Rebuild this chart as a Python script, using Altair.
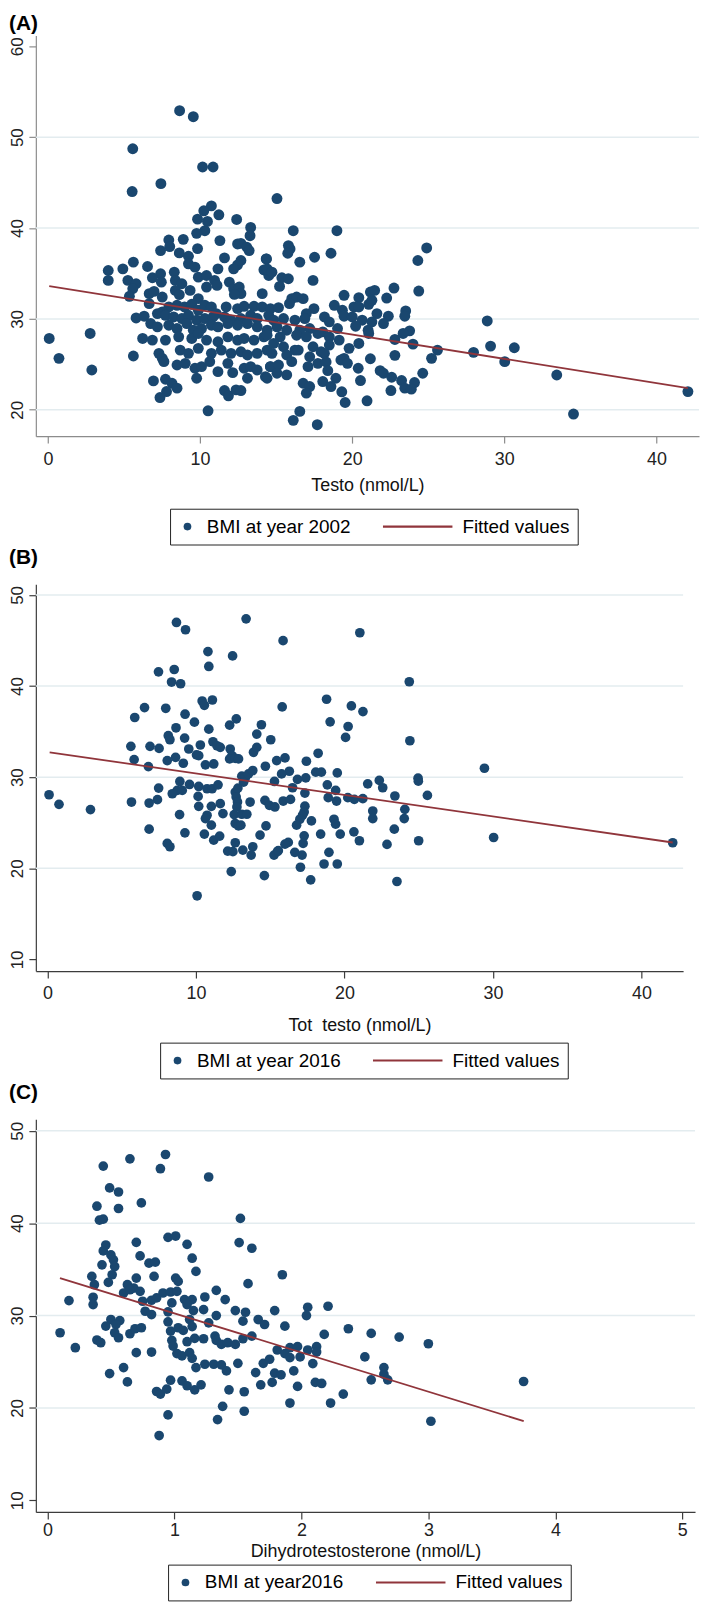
import altair as alt
import pandas as pd

FONT = "Liberation Sans"
NAVY = "#1a476f"
MAROON = "#90353b"
GRID = "#e3ecef"
BAR = "M-1,-0.03L1,-0.03L1,0.03L-1,0.03Z"

# ---------------- Panel A : Testo vs BMI 2002 ----------------
a_left = [
(5.58,48.73),(10.17,46.72),(10.86,46.72),(7.43,44.89),(5.54,44.02),(10.75,42.44),(10.25,41.90),(9.84,40.98),(10.49,40.73),(11.24,41.46),
(10.32,39.71),(9.78,39.42),(12.41,40.95),(13.33,40.07),(13.29,39.16),(7.95,38.69),(8.90,38.76),(8.01,37.96),(7.41,37.52),(9.84,37.74),
(11.31,38.62),(8.64,37.27),(9.24,36.90),(12.47,38.25),(12.69,38.32),(13.08,37.89),(13.23,37.52),(11.61,36.72),(14.35,36.61),(12.69,36.43),
(12.47,35.95),(12.21,35.51),(3.97,35.33),(4.93,35.51),(5.62,36.25),(6.55,35.77),(7.41,34.97),(8.31,35.15),(9.24,36.06),(9.67,35.70),
(3.97,34.24),(5.26,34.24),(5.80,33.87),(5.58,33.32),(6.87,34.53),(7.46,34.05),(8.38,34.24),(8.81,33.87),(9.89,34.60),(10.43,34.78),
(11.18,35.51),(10.96,34.24),(14.20,35.40),(14.52,34.78),(5.36,32.49),(6.66,32.78),(6.98,33.03),(7.52,32.41),(8.38,33.14),(8.64,32.67),
(9.35,33.14),(9.89,32.23),(10.43,33.51),(11.12,33.69),(11.93,34.05),(12.21,33.32),(12.58,33.51),(12.69,32.78),(12.26,32.70),(14.09,32.78),
(6.66,31.68),(7.95,31.32),(7.52,30.77),(8.49,31.50),(8.98,31.32),(9.46,31.61),(9.89,30.95),(10.32,31.50),(10.75,31.32),(11.07,30.59),
(11.72,31.32),(12.47,31.14),(12.90,31.39),(13.55,31.39),(14.09,31.32),(5.80,30.11),(6.33,30.30),(7.20,30.59),(7.73,30.40),(8.27,30.22),
(8.81,30.04),(9.24,30.40),(9.78,29.86),(10.32,30.04),(10.86,30.22),(11.61,30.22),(12.04,29.86),(12.69,30.04),(13.33,30.40),(13.76,30.04),
(14.52,30.40),(6.76,29.49),(7.20,29.13),(7.95,29.31),(8.49,28.94),(9.13,29.49),(9.56,28.76),(10.10,28.94),(10.75,29.31),(11.18,29.13),
(11.83,29.49),(12.47,29.31),(13.12,29.49),(13.76,29.13),(14.41,28.76),(0.09,27.85),(2.78,28.40),(6.23,27.85),(6.87,27.67),(7.73,27.67),
(8.60,28.03),(9.46,27.85),(9.89,28.40),(10.43,27.67),(11.18,27.49),(11.83,28.03),(12.47,27.67),(12.90,27.85),(13.55,27.67),(14.20,28.03),
(0.73,25.66),(5.62,25.92),(7.30,26.21),(7.52,25.66),(8.70,26.57),(9.24,26.21),(9.89,26.76),(10.75,26.21),(11.40,26.57),(12.04,26.21),
(12.69,26.39),(13.12,26.03),(13.76,26.21),(14.41,26.57),(2.89,24.38),(7.63,25.30),(8.49,24.93),(9.03,25.11),(9.67,24.57),(10.10,24.75),
(10.64,25.30),(11.18,24.20),(11.83,25.11),(12.15,24.09),(12.90,24.57),(13.33,24.75),(13.76,24.38),(14.30,23.65),(14.63,24.75),(6.94,23.18),
(7.73,23.36),(8.16,22.92),(8.49,22.38),(7.80,22.01),(7.37,21.35),(9.78,23.47),(11.61,22.12),(11.87,21.54),(12.37,22.19),(12.69,22.12),
(13.12,23.47),(10.53,19.89),(8.66,52.92),(9.56,52.26),
]
a_right = [
(15.06,43.25),(16.13,39.71),(19.00,39.71),(15.81,38.07),(15.92,37.70),(15.77,37.23),(17.53,36.79),(16.56,36.25),(18.61,37.23),(24.90,37.81),
(24.32,36.43),(14.37,36.61),(14.41,35.51),(14.73,35.15),(15.38,34.53),(15.81,34.42),(15.23,33.58),(17.43,34.24),(24.38,33.07),(16.03,32.23),
(16.35,32.41),(16.78,32.23),(15.88,31.68),(19.47,32.60),(20.44,32.34),(21.20,32.96),(21.48,33.14),(22.75,33.40),(22.27,32.30),(14.63,31.14),
(15.16,31.24),(17.49,31.14),(16.99,30.59),(18.83,31.50),(19.36,30.95),(20.12,31.32),(20.44,31.32),(21.09,31.61),(21.30,32.05),(23.52,30.88),
(21.63,30.59),(22.38,30.30),(14.84,29.86),(15.49,30.04),(16.24,29.86),(16.89,30.04),(18.18,30.22),(18.50,29.68),(19.47,30.30),(20.01,30.22),
(20.66,29.86),(21.30,29.68),(22.06,29.49),(23.46,30.30),(28.88,29.78),(15.06,29.13),(15.70,28.76),(16.56,28.76),(17.21,28.94),(18.07,28.58),
(19.04,28.94),(20.23,29.20),(21.05,28.76),(23.78,28.69),(23.35,28.40),(14.41,28.21),(15.27,28.03),(16.35,28.21),(16.99,28.03),(17.75,28.40),
(18.50,28.03),(21.09,28.40),(22.81,27.74),(14.84,27.30),(15.49,26.94),(16.24,26.57),(17.43,26.94),(17.96,26.39),(18.50,27.12),(19.15,27.67),
(19.80,26.76),(20.44,27.30),(24.00,27.23),(25.61,26.57),(27.98,26.32),(29.10,27.01),(30.66,26.83),(14.73,26.21),(15.70,26.03),(16.46,26.57),
(17.21,25.84),(18.18,26.21),(19.47,25.66),(21.20,25.62),(22.81,25.99),(25.22,25.66),(14.63,24.75),(15.16,24.93),(16.03,25.30),(17.10,24.75),
(17.75,25.11),(18.29,25.26),(19.26,25.48),(19.69,25.11),(20.40,24.57),(30.03,25.30),(14.41,23.47),(15.06,24.02),(15.70,23.84),(18.40,24.31),
(18.93,23.47),(21.84,24.31),(22.06,24.02),(22.60,23.58),(24.64,24.02),(16.78,22.92),(17.21,22.56),(16.99,21.83),(18.07,23.11),(18.61,22.56),
(20.55,23.22),(23.25,23.22),(24.10,23.00),(23.46,22.38),(23.89,22.27),(19.32,21.98),(22.55,22.12),(19.54,20.80),(20.98,20.99),(16.56,19.82),
(16.13,18.84),(17.71,18.36),(33.45,23.83),(34.55,19.53),(42.07,22.00),
]
a_fit_x = [0.09, 42.07]
a_fit_y = [33.61, 22.38]
a_xticks = [0, 10, 20, 30, 40]
a_yticks = [20, 30, 40, 50, 60]
a_grid = [20, 30, 40, 50]

# ---------------- Panel B : Tot testo vs BMI 2016 ----------------
b_top = [
(8.68,46.98),(9.29,46.18),(13.37,47.38),(15.86,44.98),(21.03,45.85),(10.80,43.78),(12.46,43.31),(7.47,41.56),(8.53,41.82),(10.86,42.15),
(8.35,40.44),(8.96,40.25),(24.36,40.47),(10.41,38.36),(10.56,37.89),(11.10,38.47),(5.87,36.55),(6.53,37.64),(7.96,37.56),(9.26,36.91),
(9.89,36.04),(18.79,38.55),(20.46,37.82),(21.24,37.20),(19.03,36.07),(15.80,37.71),(12.71,36.40),(12.26,35.71),(14.40,35.75),(8.65,35.42),
(10.86,35.27),(20.24,35.56),
]
b_left = [
(5.61,33.38),(6.90,33.38),(7.51,33.16),(5.83,31.93),(6.79,31.16),(8.13,34.55),(8.24,34.11),(9.23,34.29),(9.51,33.09),(10.29,33.53),
(10.03,32.44),(10.18,32.36),(8.06,31.82),(8.62,32.18),(9.14,31.53),(10.63,31.35),(11.19,31.45),(11.14,33.89),(11.41,33.45),(11.63,33.27),
(12.30,33.09),(12.42,32.36),(12.26,32.00),(12.64,32.07),(12.86,32.00),(14.09,34.73),(13.87,32.73),(14.09,33.27),(15.03,34.11),(14.67,31.20),
(15.43,31.82),(7.48,28.80),(7.40,27.53),(6.84,27.16),(5.65,27.27),(8.91,29.53),(8.73,28.55),(8.40,28.18),(9.07,28.55),(9.56,29.20),
(10.18,28.98),(10.14,27.89),(10.18,26.80),(10.74,28.73),(11.08,28.73),(11.48,29.16),(11.03,26.80),(10.74,25.82),(10.63,25.45),(11.03,24.73),
(10.56,23.75),(9.25,23.89),(8.89,25.89),(6.84,24.29),(8.06,22.73),(8.24,22.36),(11.63,27.09),(11.81,26.00),(12.64,28.36),(12.70,27.82),
(12.79,27.27),(12.57,25.89),(12.75,26.73),(12.64,24.91),(12.86,24.65),(13.02,24.73),(11.19,23.09),(11.59,23.53),(12.64,22.80),(12.13,21.89),
(12.48,21.82),(13.15,22.00),(12.37,19.64),(13.08,30.11),(13.31,29.89),(13.53,30.36),(13.82,30.73),(13.20,29.45),(12.82,28.80),(13.64,27.27),
(13.08,25.93),(13.42,25.93),(13.82,22.36),(13.71,21.45),(14.31,23.64),(14.71,24.65),(14.64,27.45),(14.94,26.91),(15.31,26.73),(15.25,21.45),
(15.48,21.82),(15.28,29.53),(14.60,19.20),(10.07,16.98),(0.10,28.07),(0.77,27.02),(2.89,26.44),
]
b_right = [
(24.40,34.00),(20.07,34.36),(18.22,32.62),(17.43,31.75),(15.99,32.11),(18.06,30.55),(18.44,30.55),(16.28,30.65),(15.76,30.36),(16.83,29.75),
(17.39,29.93),(19.51,30.47),(18.84,29.16),(19.40,28.55),(16.50,28.84),(17.33,28.25),(15.87,27.38),(16.36,27.56),(18.90,27.75),(19.46,27.38),
(20.22,27.75),(20.66,27.56),(21.23,27.64),(21.56,29.27),(22.34,29.64),(22.57,28.84),(23.39,27.93),(24.06,26.47),(24.02,25.45),(24.95,29.89),
(24.97,29.56),(25.58,28.00),(29.42,30.98),(30.04,23.38),(17.33,26.82),(17.28,26.18),(17.17,25.82),(16.99,25.38),(16.77,24.73),(17.77,25.20),
(21.90,26.29),(21.90,25.45),(19.29,25.38),(19.40,24.84),(18.39,23.75),(19.71,23.75),(20.63,24.00),(21.00,23.02),(23.35,24.29),(22.86,22.62),
(24.99,23.02),(17.28,23.56),(17.21,22.73),(17.14,21.45),(16.65,21.75),(16.21,22.84),(15.99,22.65),(15.54,21.93),(18.95,21.75),(18.62,20.47),
(19.51,20.47),(17.03,20.11),(17.72,18.73),(23.53,18.55),(42.10,22.80),
]
b_fit_x = [0.14, 42.10]
b_fit_y = [32.73, 22.83]
b_xticks = [0, 10, 20, 30, 40]
b_yticks = [10, 20, 30, 40, 50]
b_grid = [20, 30, 40, 50]

# ---------------- Panel C : DHT vs BMI 2016 ----------------
c_left = [
(0.93,47.44),(0.65,46.97),(0.44,46.18),(0.89,45.90),(1.27,45.00),(0.49,43.82),(0.56,43.38),(0.39,41.84),(0.56,41.59),(0.74,42.20),
(0.41,40.33),(0.44,40.44),(1.52,40.52),(0.95,38.47),(1.01,38.61),(1.10,37.71),(1.51,37.90),(1.61,37.29),(0.70,37.93),(0.46,37.64),
(0.44,37.00),(0.73,36.46),(0.50,36.57),(0.52,36.03),(0.80,35.67),(0.85,35.78),(1.14,36.21),(1.17,34.78),(0.43,35.49),(0.53,35.31),
(0.51,34.42),(0.48,33.59),(0.35,34.24),(0.37,33.34),(0.70,34.06),(0.84,34.24),(1.01,34.06),(1.03,33.70),(1.58,33.45),(1.33,32.73),
(0.63,33.34),(0.68,32.98),(0.73,32.62),(0.60,32.44),(0.65,32.80),(0.36,31.98),(0.36,31.19),(0.17,31.62),(0.75,31.55),(0.82,31.66),
(0.86,31.91),(0.91,32.44),(0.97,32.55),(1.02,32.62),(0.98,31.37),(1.08,31.73),(1.14,31.73),(1.10,31.19),(1.24,32.01),(1.40,31.73),
(1.23,30.65),(1.15,30.54),(1.48,30.54),(1.56,30.36),(1.54,29.39),(1.33,30.00),(0.77,30.47),(0.82,30.11),(0.95,30.40),(0.50,29.57),
(0.57,29.46),(0.54,29.03),(0.46,28.86),(0.95,29.32),(1.12,29.57),(1.14,28.81),(1.27,29.21),(0.10,28.14),(0.22,26.52),(0.39,27.35),
(0.42,27.06),(0.53,28.14),(0.56,27.60),(0.65,28.03),(0.69,28.57),(0.74,28.68),(0.97,28.32),(1.03,28.68),(1.07,28.39),(0.98,27.31),
(0.99,26.70),(1.10,27.17),(1.16,27.53),(1.23,27.49),(1.32,27.78),(1.33,27.31),(1.37,26.88),(1.42,27.06),(1.48,26.88),(1.54,27.49),
(1.61,27.78),(1.66,29.57),(1.71,29.03),(1.02,25.88),(1.06,25.63),(1.12,25.98),(1.14,25.37),(0.70,25.98),(0.82,26.05),(1.17,24.37),
(1.24,24.73),(1.31,24.73),(1.37,24.66),(1.41,24.01),(1.50,24.83),(1.70,24.83),(1.64,23.83),(1.68,22.50),(0.49,23.72),(0.60,24.37),
(0.63,22.82),(0.97,23.00),(1.06,22.93),(1.10,22.40),(1.16,21.96),(1.21,22.50),(0.86,21.78),(0.89,21.50),(0.94,22.04),(1.43,21.96),
(1.55,21.75),(1.38,20.17),(1.34,18.74),(1.55,19.64),(0.95,19.24),(0.88,17.01),
]
c_right = [
(1.85,34.42),(1.79,30.54),(2.05,30.90),(2.04,30.00),(2.21,31.01),(1.87,28.85),(2.37,28.57),(2.55,28.07),(2.77,27.67),(3.00,26.95),
(2.18,27.96),(1.81,26.27),(1.91,26.52),(1.97,26.63),(1.87,25.88),(1.91,25.45),(1.75,25.27),(1.99,25.52),(2.05,26.27),(2.12,26.63),
(2.12,26.05),(2.09,24.80),(1.94,24.01),(1.79,23.76),(1.84,23.58),(1.77,22.76),(1.97,22.33),(2.11,22.76),(2.16,22.65),(1.91,20.53),
(2.23,20.53),(2.33,21.50),(2.50,25.52),(2.65,24.37),(2.65,23.65),(2.55,23.04),(2.68,23.04),(3.02,18.56),(3.75,22.86),
]
c_fit_x = [0.099, 3.751]
c_fit_y = [34.06, 18.57]
c_xticks = [0, 1, 2, 3, 4, 5]
c_yticks = [10, 20, 30, 40, 50]
c_grid = [20, 30, 40, 50]


def panel(pts, fit_x, fit_y, grid_vals, xdom, ydom, xticks, yticks, w, h,
          title, title_offset, xtitle, label, lx, ly, dot, axis_color,
          lab_pad, title_pad):
    df = pd.DataFrame(pts, columns=["x", "y"])
    fit = pd.DataFrame({"x": fit_x, "y": fit_y})
    grid = pd.DataFrame({"y": grid_vals})
    xs = alt.Scale(domain=xdom, nice=False, zero=False)
    ys = alt.Scale(domain=ydom, nice=False, zero=False)
    xa = alt.Axis(values=xticks, format="d", title=xtitle, grid=False,
                  domainColor=axis_color, domainWidth=1.2, tickColor=axis_color,
                  tickWidth=1.2, tickSize=7, labelFont=FONT, labelFontSize=18,
                  labelColor="#222222", labelPadding=lab_pad, labelFlush=False,
                  titleFont=FONT, titleFontSize=18, titleFontWeight="normal",
                  titleColor="#111111", titlePadding=title_pad)
    ya = alt.Axis(values=yticks, format="d", title=None, grid=False,
                  domainColor=axis_color, domainWidth=1.2, tickColor=axis_color,
                  tickWidth=1.2, tickSize=7, labelFont=FONT, labelFontSize=17,
                  labelColor="#222222", labelAngle=270, labelAlign="center",
                  labelBaseline="bottom", labelPadding=2, labelFlush=False)
    X = alt.X("x:Q", scale=xs, axis=xa)
    Y = alt.Y("y:Q", scale=ys, axis=ya)
    rules = alt.Chart(grid).mark_rule(color=GRID, strokeWidth=1.5).encode(y=Y)
    dots = alt.Chart(df).mark_circle(color=NAVY, opacity=1, size=dot).encode(x=X, y=Y)
    line = alt.Chart(fit).mark_line(color=MAROON, strokeWidth=1.8).encode(x=X, y=Y)
    dom = [label, "Fitted values"]
    lg = alt.Legend(title=None, orient="none", legendX=lx, legendY=ly,
                    direction="horizontal", labelFont=FONT, labelFontSize=19,
                    labelColor="black", labelLimit=400, labelOffset=10,
                    columnPadding=32, padding=8, strokeColor="#222222",
                    fillColor="white", clipHeight=20, symbolStrokeWidth=0)
    key = alt.Chart(alt.Data(values=[])).mark_point(filled=True, opacity=1).encode(
        color=alt.Color("s:N", scale=alt.Scale(domain=dom, range=[NAVY, MAROON]), legend=lg),
        shape=alt.Shape("s:N", scale=alt.Scale(domain=dom, range=["circle", BAR]), legend=lg),
        size=alt.Size("s:N", scale=alt.Scale(type="point", domain=dom, range=[60, 4900]), legend=lg),
    )
    return alt.layer(rules, dots, line, key).properties(
        width=w, height=h,
        title=alt.TitleParams(text=title, anchor="start", frame="bounds", font=FONT,
                              fontSize=21, fontWeight="bold", color="black",
                              offset=title_offset),
    )


pa = panel(a_left + a_right, a_fit_x, a_fit_y, a_grid, [-0.79, 42.8], [17.1, 61.2],
           a_xticks, a_yticks, 667, 403, "(A)", 1, "Testo (nmol/L)",
           "BMI at year 2002", 135, 476, 120, "#8c8c8c", 8, 8)
pb = panel(b_top + b_left + b_right, b_fit_x, b_fit_y, b_grid, [-0.79, 42.8], [8.72, 51.17],
           b_xticks, b_yticks, 651, 389, "(B)", 16, "Tot\u00a0 testo (nmol/L)",
           "BMI at year 2016", 125, 461, 95, "#3c3c3c", 7, 13.5)
pc = panel(c_left + c_right, c_fit_x, c_fit_y, c_grid, [-0.091, 5.10], [8.74, 51.26],
           c_xticks, c_yticks, 663, 395, "(C)", 16, "Dihydrotestosterone (nmol/L)",
           "BMI at year2016", 133, 448, 95, "#3c3c3c", 3, 3)

chart = (
    alt.vconcat(pa, pb, pc, spacing=149, bounds="flush")
    .resolve_scale(color="independent", shape="independent", size="independent")
    .properties(padding=0, background="white")
    .configure(font=FONT)
    .configure_view(stroke="transparent")
)

chart.save("out.html", embed_options={"renderer": "svg", "actions": False})
